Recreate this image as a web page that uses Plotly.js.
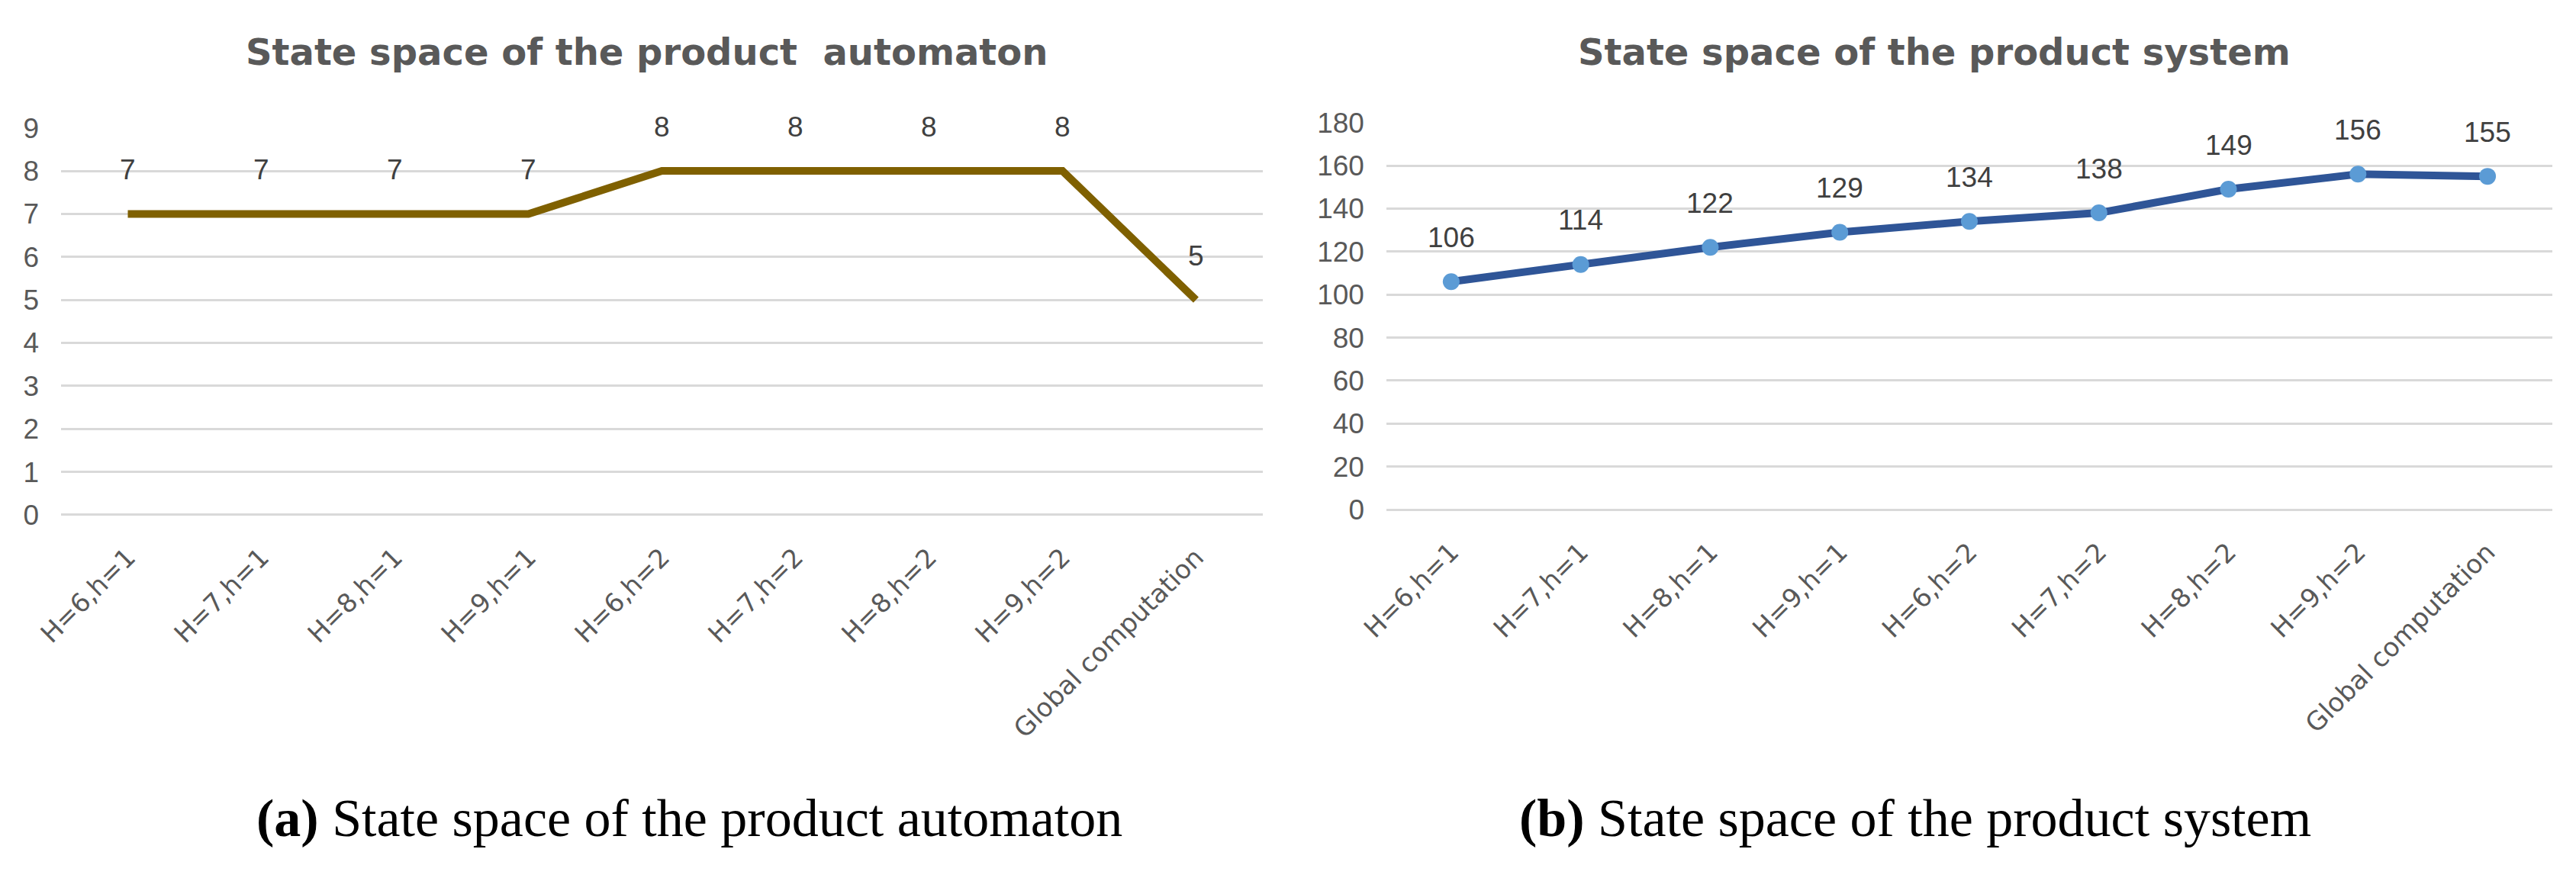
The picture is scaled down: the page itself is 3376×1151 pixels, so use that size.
<!DOCTYPE html>
<html>
<head>
<meta charset="utf-8">
<script src="https://cdn.plot.ly/plotly-3.0.1.min.js"></script>
<style>html,body{margin:0;padding:0;background:#fff;}#chart{width:3376px;height:1151px;}</style>
</head>
<body>
<div id="chart"></div>
<script>
const categories = ["H=6,h=1","H=7,h=1","H=8,h=1","H=9,h=1","H=6,h=2","H=7,h=2","H=8,h=2","H=9,h=2","Global computation"];
const automatonStates = [7,7,7,7,8,8,8,8,5];
const systemStates = [106,114,122,129,134,138,149,156,155];
const titleA = "State space of the product  automaton";
const titleB = "State space of the product system";
const captionA = "<b>(a)</b> State space of the product automaton";
const captionB = "<b>(b)</b> State space of the product system";

const tickGray = "#595959";
const labelFont = {family: "Liberation Sans, Arial, sans-serif", size: 37, color: "#404040"};

const traces = [
  {x: categories, y: automatonStates, type: "scatter", mode: "lines",
   line: {color: "#7F6000", width: 10}, xaxis: "x", yaxis: "y", hoverinfo: "skip"},
  {x: categories, y: systemStates, type: "scatter", mode: "lines+markers",
   line: {color: "#2F5597", width: 10}, marker: {color: "#5B9BD5", size: 22},
   xaxis: "x2", yaxis: "y2", hoverinfo: "skip"}
];

const annotations = [];
automatonStates.forEach((v, i) => annotations.push({
  x: categories[i], y: v, xref: "x", yref: "y", text: String(v), showarrow: false,
  yshift: 58, yanchor: "middle", font: labelFont
}));
systemStates.forEach((v, i) => annotations.push({
  x: categories[i], y: v, xref: "x2", yref: "y2", text: String(v), showarrow: false,
  yshift: 58, yanchor: "middle", font: labelFont
}));
const titleFont = {family: "DejaVu Sans, sans-serif", size: 48, color: tickGray, weight: "bold"};
annotations.push({x: 0.2509, y: 0.941, xref: "paper", yref: "paper", text: titleA, showarrow: false,
  xanchor: "center", yanchor: "middle", font: titleFont});
annotations.push({x: 0.7509, y: 0.941, xref: "paper", yref: "paper", text: titleB, showarrow: false,
  xanchor: "center", yanchor: "middle", font: titleFont});
const capFont = {family: "Liberation Serif, Times New Roman, serif", size: 70, color: "#000000"};
annotations.push({x: 0.2675, y: 0.0678, xref: "paper", yref: "paper", text: captionA, showarrow: false,
  xanchor: "center", yanchor: "middle", font: capFont});
annotations.push({x: 0.7435, y: 0.0678, xref: "paper", yref: "paper", text: captionB, showarrow: false,
  xanchor: "center", yanchor: "middle", font: capFont});

const xCommon = {
  type: "category", range: [-0.5, 8.5], showgrid: false, zeroline: false, showline: false,
  ticks: "", tickangle: -45, ticklabelstandoff: 28,
  tickfont: {family: "DejaVu Sans, sans-serif", size: 34, color: tickGray}, fixedrange: true
};
const yCommon = {
  showgrid: true, gridcolor: "#D9D9D9", gridwidth: 3, zeroline: true, zerolinecolor: "#D9D9D9",
  zerolinewidth: 3, showline: false, ticks: "", ticklabelstandoff: 28,
  tickfont: {family: "Liberation Sans, Arial, sans-serif", size: 37, color: tickGray}, fixedrange: true
};

const layout = {
  width: 3376, height: 1151, margin: {l: 0, r: 0, t: 0, b: 0},
  paper_bgcolor: "#ffffff", plot_bgcolor: "#ffffff", showlegend: false,
  xaxis: Object.assign({}, xCommon, {domain: [0.0237, 0.4902], anchor: "y"}),
  yaxis: Object.assign({}, yCommon, {domain: [0.4136, 0.8543], range: [0, 9.0001], dtick: 1, anchor: "x"}),
  xaxis2: Object.assign({}, xCommon, {domain: [0.5382, 0.9908], anchor: "y2"}),
  yaxis2: Object.assign({}, yCommon, {domain: [0.4196, 0.8604], range: [0, 180.002], dtick: 20, anchor: "x2"}),
  annotations: annotations
};

Plotly.newPlot("chart", traces, layout, {displayModeBar: false, staticPlot: true});
</script>
</body>
</html>
